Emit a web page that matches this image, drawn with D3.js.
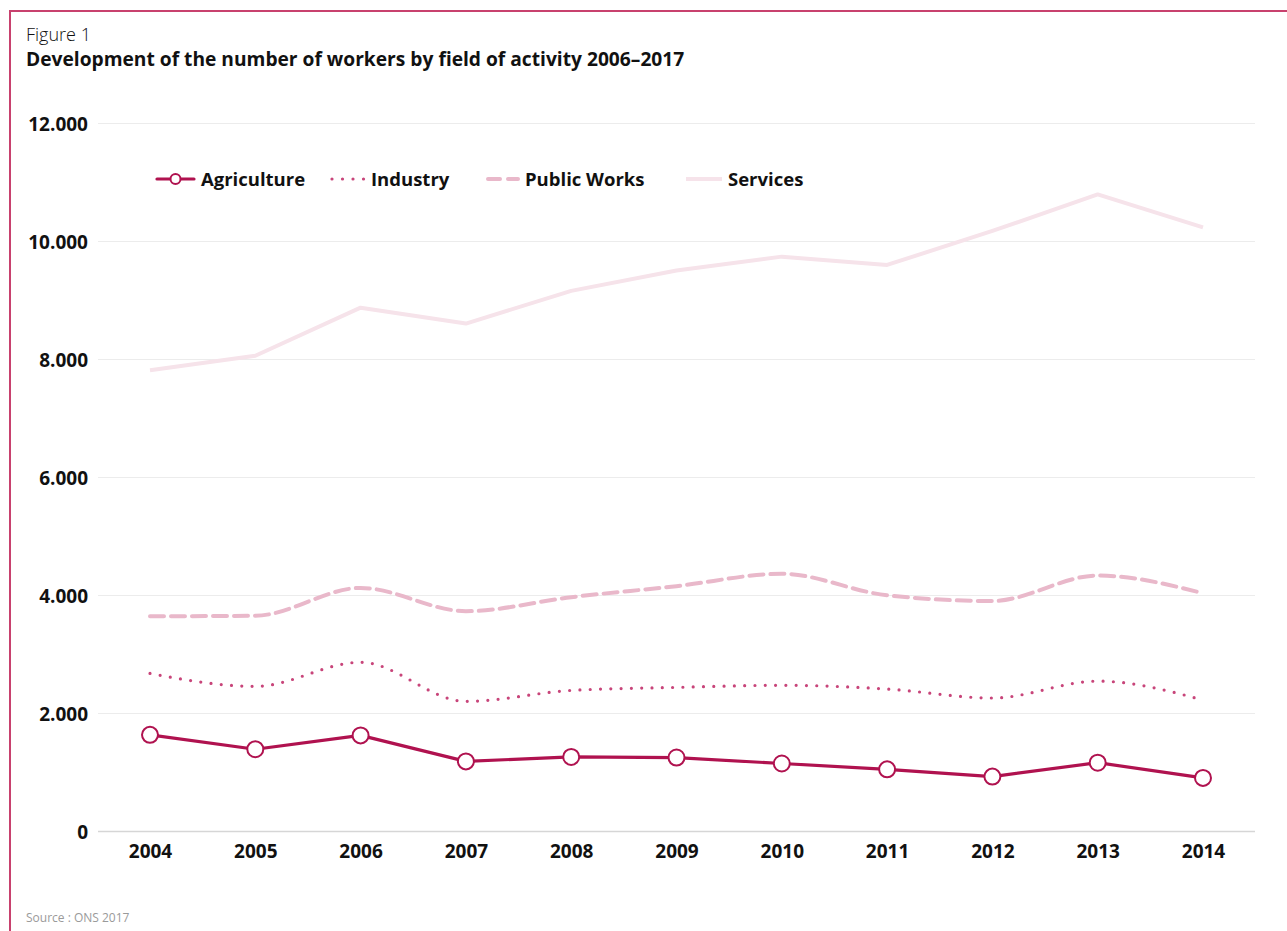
<!DOCTYPE html>
<html>
<head>
<meta charset="utf-8">
<script src="https://cdn.jsdelivr.net/npm/d3@7"></script>
<style>
  html, body { margin: 0; padding: 0; background: #ffffff; }
  svg { display: block; font-family: "Open Sans", "Noto Sans", sans-serif; }
</style>
</head>
<body>
<svg id="chart" width="1287" height="931"></svg>
<script>
const years = [2004, 2005, 2006, 2007, 2008, 2009, 2010, 2011, 2012, 2013, 2014];
const agriculture = [1630, 1386, 1620, 1180, 1256, 1245, 1144, 1045, 922, 1158, 900];
const industry = [2670, 2451, 2860, 2197, 2383, 2434, 2470, 2406, 2254, 2540, 2220];
const publicWorks = [3640, 3648, 4120, 3726, 3963, 4150, 4360, 3995, 3898, 4330, 4030];
const services = [7808, 8056, 8870, 8600, 9155, 9500, 9735, 9594, 10170, 10789, 10231];
const yTicks = [0, 2000, 4000, 6000, 8000, 10000, 12000];
const seriesNames = ["Agriculture", "Industry", "Public Works", "Services"];

const svg = d3.select("#chart");
const W = 1287;

// frame (top and left borders)
svg.append("line").attr("x1", 10).attr("x2", W).attr("y1", 11).attr("y2", 11)
  .attr("stroke", "#c8416e").attr("stroke-width", 2);
svg.append("line").attr("x1", 10).attr("x2", 10).attr("y1", 10).attr("y2", 931)
  .attr("stroke", "#c8416e").attr("stroke-width", 2);

// titles
svg.append("text").attr("x", 26).attr("y", 41).attr("font-size", 18).attr("font-weight", 300)
  .attr("fill", "#111").text("Figure 1");
svg.append("text").attr("x", 26).attr("y", 66).attr("font-size", 19.2).attr("font-weight", 700)
  .attr("fill", "#111").text("Development of the number of workers by field of activity 2006\u20132017");

const x = d3.scaleLinear().domain([2004, 2014]).range([150, 1203]);
const y = d3.scaleLinear().domain([0, 12000]).range([831, 123]);

const locale = d3.formatLocale({ decimal: ",", thousands: ".", grouping: [3], currency: ["", ""] });
const fmt = locale.format(",");

// y axis with grid
const gridLeft = 98, gridRight = 1255;
const yAxis = svg.append("g").attr("transform", `translate(${gridLeft},0)`)
  .call(d3.axisLeft(y).tickValues(yTicks).tickFormat(fmt)
    .tickSize(-(gridRight - gridLeft)).tickPadding(10));
yAxis.select(".domain").remove();
yAxis.selectAll(".tick line").attr("stroke", "#ececec").attr("stroke-width", 1.2);
yAxis.selectAll(".tick").filter(d => d === 0).select("line").attr("stroke", "#d6d6d6").attr("stroke-width", 1.4);
yAxis.selectAll(".tick text").attr("font-size", 19).attr("font-weight", 700).attr("fill", "#111")
  .attr("font-family", "'Open Sans', 'Noto Sans', sans-serif").attr("dy", "0.4em");

// x axis
const xAxis = svg.append("g").attr("transform", `translate(0,${y(0)})`)
  .call(d3.axisBottom(x).tickValues(years).tickFormat(d3.format("d")).tickSize(0).tickPadding(14));
xAxis.select(".domain").remove();
xAxis.selectAll(".tick text").attr("font-size", 19).attr("font-weight", 700).attr("fill", "#111")
  .attr("font-family", "'Open Sans', 'Noto Sans', sans-serif");

const styles = {
  "Agriculture": { color: "#b0124f", width: 3.2, dash: null, cap: "round", curve: d3.curveLinear },
  "Industry": { color: "#c8457a", width: 3.2, dash: "0 10.3", cap: "round", curve: d3.curveMonotoneX },
  "Public Works": { color: "#e9b8ca", width: 4, dash: "14 7", cap: "round", curve: d3.curveMonotoneX },
  "Services": { color: "#f6e3ea", width: 4, dash: null, cap: "butt", curve: d3.curveLinear }
};
const dataBy = { "Agriculture": agriculture, "Industry": industry, "Public Works": publicWorks, "Services": services };

const drawOrder = ["Services", "Public Works", "Industry", "Agriculture"];
drawOrder.forEach(name => {
  const st = styles[name];
  const pts = years.map((yr, i) => [yr, dataBy[name][i]]);
  const line = d3.line().x(d => x(d[0])).y(d => y(d[1])).curve(st.curve);
  const p = svg.append("path").datum(pts).attr("d", line)
    .attr("fill", "none").attr("stroke", st.color).attr("stroke-width", st.width)
    .attr("stroke-linecap", st.cap).attr("stroke-linejoin", "round");
  if (st.dash) p.attr("stroke-dasharray", st.dash);
});

// agriculture markers
svg.append("g").selectAll("circle").data(years.map((yr, i) => [yr, agriculture[i]]))
  .join("circle").attr("cx", d => x(d[0])).attr("cy", d => y(d[1])).attr("r", 8)
  .attr("fill", "#fff").attr("stroke", "#b0124f").attr("stroke-width", 2);

// legend
const legendY = 179;
const legendItems = [
  { name: "Agriculture", x0: 157, x1: 194, tx: 201 },
  { name: "Industry", x0: 331, x1: 364, tx: 371 },
  { name: "Public Works", x0: 486, x1: 518, tx: 525 },
  { name: "Services", x0: 686, x1: 722, tx: 728 }
];
const lg = svg.append("g");
legendItems.forEach(it => {
  const st = styles[it.name];
  const l = lg.append("line").attr("x1", it.x0).attr("x2", it.x1).attr("y1", legendY).attr("y2", legendY)
    .attr("stroke", st.color).attr("stroke-width", st.width).attr("stroke-linecap", st.cap);
  if (it.name === "Industry") l.attr("stroke-dasharray", "0 10.5").attr("x1", it.x0 + 1);
  if (it.name === "Public Works") l.attr("stroke-dasharray", "12 8").attr("x1", it.x0 + 2);
  if (it.name === "Agriculture") {
    lg.append("circle").attr("cx", (it.x0 + it.x1) / 2).attr("cy", legendY).attr("r", 5)
      .attr("fill", "#fff").attr("stroke", st.color).attr("stroke-width", 2);
  }
  lg.append("text").attr("x", it.tx).attr("y", legendY).attr("dy", "0.36em")
    .attr("font-size", 18.5).attr("font-weight", 700).attr("fill", "#111").text(it.name);
});

// source
svg.append("text").attr("x", 26).attr("y", 922).attr("font-size", 12)
  .attr("fill", "#9a9a9a").text("Source : ONS 2017");
</script>
</body>
</html>
